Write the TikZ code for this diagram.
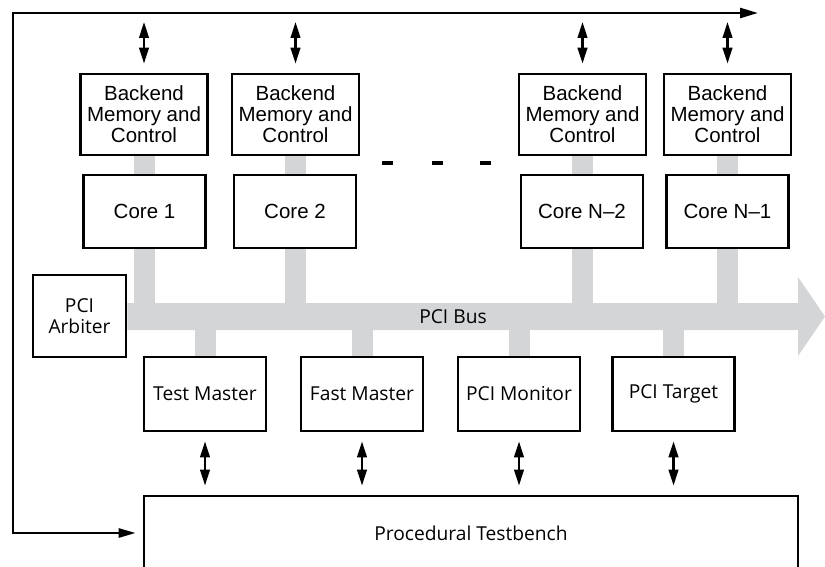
\documentclass[tikz,border=0pt]{standalone}
\usepackage{fontspec}
\setmainfont{Liberation Sans}
\newfontfamily\humfont{Open Sans}
\usetikzlibrary{arrows.meta,backgrounds}
\definecolor{busgray}{RGB}{212,213,215}

\begin{document}
\begin{tikzpicture}[x=1pt,y=-1pt,
        blk/.style={draw,line width=2.6pt,align=center,inner sep=0pt,fill=white},
        memblk/.style={blk,minimum width=127pt,minimum height=81pt,font=\fontsize{20.5}{21}\selectfont},
        coreblk/.style={blk,minimum width=122pt,minimum height=73pt,font=\fontsize{20.5}{21}\selectfont},
        devblk/.style={blk,minimum width=122pt,minimum height=74pt,font=\humfont\fontsize{19.2}{21}\selectfont},
        bidir/.style={line width=2.6pt,{Triangle[length=16pt,width=9.5pt]}-{Triangle[length=16pt,width=9.5pt]},shorten <=9pt,shorten >=9pt},
        stub/.style={busgray,line width=21pt}]
                \useasboundingbox (0,0) rectangle (825,567);
                \clip (0,0) rectangle (825,567);
                % backend memories and cores
                \node[memblk] (mem1) at (144,114.5) {Backend\\Memory and\\Control};
                \node[memblk] (mem2) at (295.5,114.5) {Backend\\Memory and\\Control};
                \node[memblk] (mem3) at (582.5,114.5) {Backend\\Memory and\\Control};
                \node[memblk] (mem4) at (727.5,114.5) {Backend\\Memory and\\Control};
                \node[coreblk] (core1) at (144.5,211.5) {Core 1};
                \node[coreblk] (core2) at (295,211.5) {Core 2};
                \node[coreblk] (core3) at (582,211.5) {Core N--2};
                \node[coreblk] (core4) at (727.5,211.5) {Core N--1};
                \foreach \x in {387,437,485} \fill (\x-5.5,161) rectangle (\x+5.5,165);
                % bus side
                \node[blk,minimum width=93pt,minimum height=82pt,font=\humfont\fontsize{19.2}{21}\selectfont] (arb) at (79.5,316) {PCI\\Arbiter};
                \node[font=\humfont\fontsize{19.2}{21}\selectfont] (busname) at (453,317) {PCI Bus};
                \node[devblk] (tm) at (205,394) {Test Master};
                \node[devblk] (fm) at (362,394) {Fast Master};
                \node[devblk] (pm) at (519,394) {PCI Monitor};
                \node[devblk] (pt) at (673.5,394) {PCI Target};
                \node[blk,minimum width=654pt,minimum height=74pt,font=\humfont\fontsize{19.2}{21}\selectfont] (tb) at (471,533) {Procedural Testbench};
                \coordinate (bus) at (0,316.5);
                \coordinate (fbend) at (758,13);
                \coordinate (fbleft) at (13,0);
                \begin{scope}[on background layer]
                \fill[busgray] (arb.east |- 0,303) -- (798,303) -- (798,277) -- (825,316.5) -- (798,356) -- (798,330) -- (arb.east |- 0,330) -- cycle;
                \draw[stub] (core1.north) -- (core1.north |- mem1.south);
                \draw[stub] (core2.north) -- (core2.north |- mem2.south);
                \draw[stub] (core3.north) -- (core3.north |- mem3.south);
                \draw[stub] (core4.north) -- (core4.north |- mem4.south);
                \draw[stub] (core1.south) -- (core1.south |- bus);
                \draw[stub] (core2.south) -- (core2.south |- bus);
                \draw[stub] (core3.south) -- (core3.south |- bus);
                \draw[stub] (core4.south) -- (core4.south |- bus);
                \draw[stub] (tm.north) -- (tm.north |- bus);
                \draw[stub] (fm.north) -- (fm.north |- bus);
                \draw[stub] (pm.north) -- (pm.north |- bus);
                \draw[stub] (pt.north) -- (pt.north |- bus);
                \end{scope}
                % arrows
                \draw[line width=2.6pt,{Triangle[length=18pt,width=10pt]}-{Triangle[length=17pt,width=9pt]},shorten >=7pt] (fbend) -- (fbleft |- fbend) -- (fbleft |- tb.west) -- (tb.west);
                \draw[bidir] (mem1.north) -- (mem1.north |- fbend);
                \draw[bidir] (mem2.north) -- (mem2.north |- fbend);
                \draw[bidir] (mem3.north) -- (mem3.north |- fbend);
                \draw[bidir] (mem4.north) -- (mem4.north |- fbend);
                \draw[bidir] (tm.south) -- (tb.north -| tm.south);
                \draw[bidir] (fm.south) -- (tb.north -| fm.south);
                \draw[bidir] (pm.south) -- (tb.north -| pm.south);
                \draw[bidir] (pt.south) -- (tb.north -| pt.south);
\end{tikzpicture}
\end{document}
